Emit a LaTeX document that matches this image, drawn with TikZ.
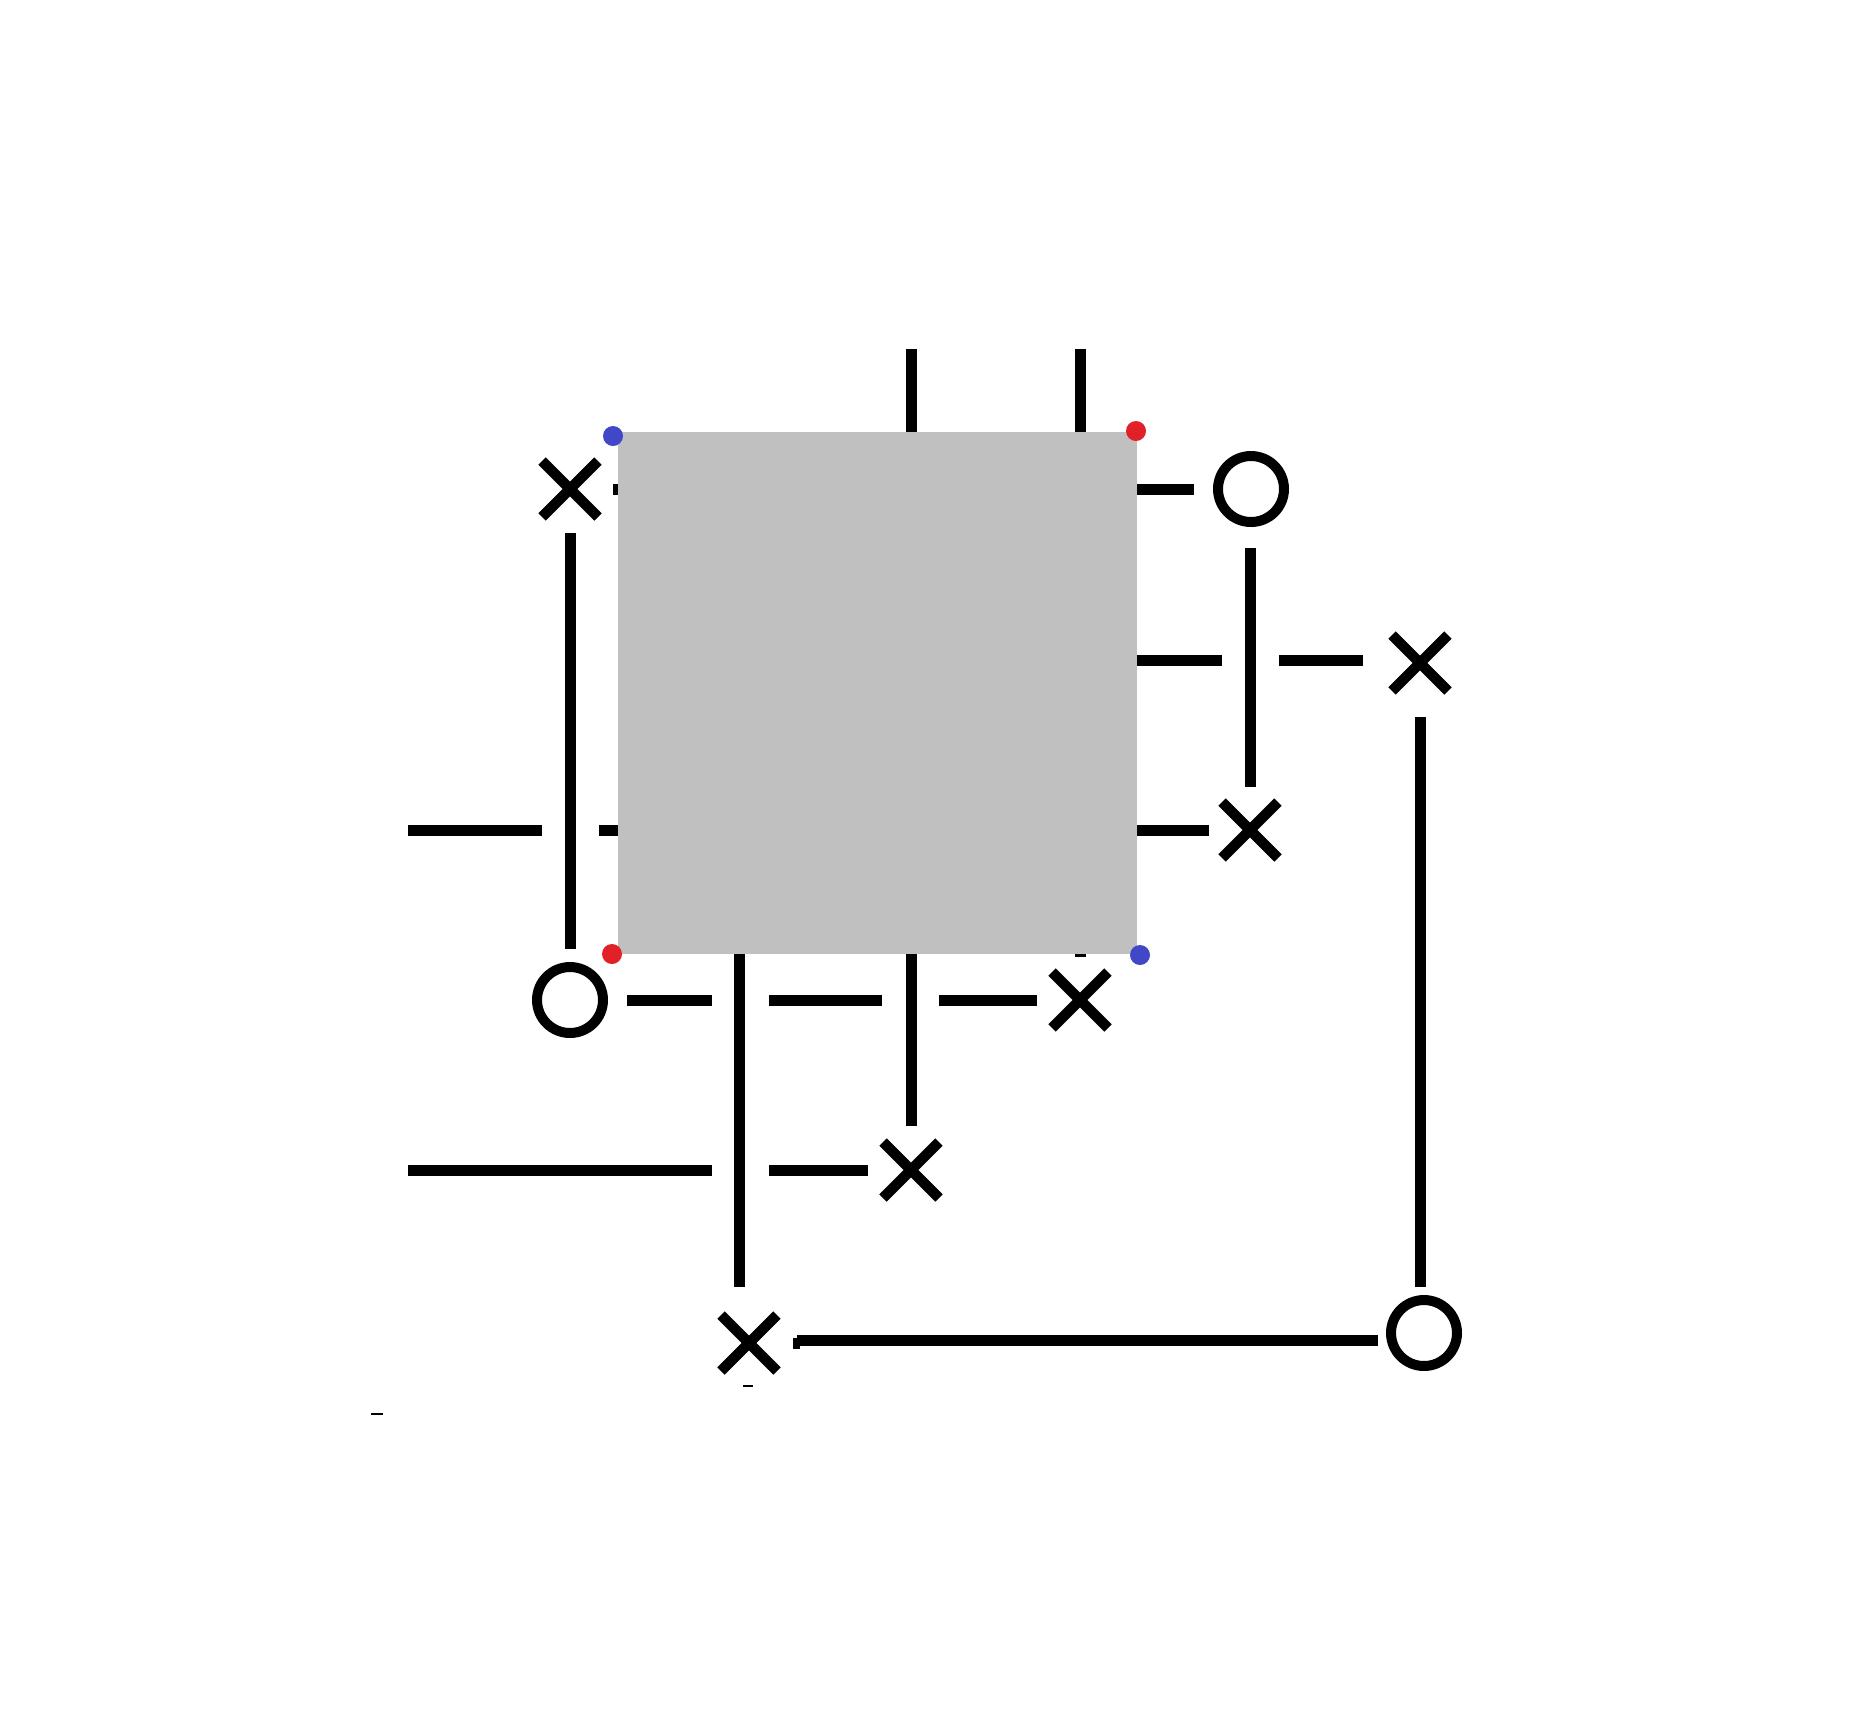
\documentclass[tikz,border=0pt]{standalone}
\usetikzlibrary{shapes.misc}
\definecolor{boxgray}{RGB}{192,192,192}
\definecolor{dotblue}{RGB}{64,72,200}
\definecolor{dotred}{RGB}{226,32,40}
\begin{document}
\begin{tikzpicture}[x=0.02cm,y=-0.02cm,
  wire/.style={line width=0.22cm,black},
  xmark/.style={cross out,draw,line width=0.21cm,minimum size=1.12cm,inner sep=0pt,outer sep=0pt},
  omark/.style={circle,draw,line width=0.2cm,minimum size=1.32cm,inner sep=0pt,outer sep=0pt},
  tick/.style={line width=0.05cm,black},
  corner/.style={circle,fill,inner sep=0pt,minimum size=0.4cm}]
\useasboundingbox (0,0) rectangle (1867,1729);
% marks
\node[xmark] (X1) at (570,489) {};
\node[omark] (C1) at (1251,489) {};
\node[xmark] (X2) at (1250,830) {};
\node[xmark] (X3) at (1420,663) {};
\node[omark] (C2) at (570,1000) {};
\node[xmark] (X4) at (1080,1000) {};
\node[xmark] (X5) at (911,1170) {};
\node[xmark] (X6) at (749,1343) {};
\node[omark] (C3) at (1424,1333) {};
% wires
\draw[wire] (911,349) -- (911,600);
\draw[wire] (1080,349) -- (1080,957);
\draw[wire] (613,489) -- (1194,489);
\draw[wire] (570,533) -- (570,949);
\draw[wire] (1250,548) -- (1250,787);
\draw[wire] (1000,660) -- (1222,660);
\draw[wire] (1279,660) -- (1363,660);
\draw[wire] (1420,717) -- (1420,1287);
\draw[wire] (408,830) -- (542,830);
\draw[wire] (599,830) -- (1209,830);
\draw[wire] (627,1000) -- (712,1000);
\draw[wire] (769,1000) -- (882,1000);
\draw[wire] (939,1000) -- (1037,1000);
\draw[wire] (739,800) -- (739,1287);
\draw[wire] (911,800) -- (911,1126);
\draw[wire] (408,1170) -- (712,1170);
\draw[wire] (769,1170) -- (868,1170);
\draw[wire] (797,1340) -- (1378,1340);
\draw[wire] (793,1343) -- (800,1343);
\draw[tick] (743,1386) -- (753,1386);
\draw[tick] (371,1414) -- (383,1414);
% box
\fill[boxgray] (618,432) rectangle (1137,954);
% corners
\node[corner,dotblue] (B1) at (613,436) {};
\node[corner,dotred] (R1) at (1136,431) {};
\node[corner,dotred] (R2) at (612,954) {};
\node[corner,dotblue] (B2) at (1140,955) {};
\end{tikzpicture}
\end{document}
